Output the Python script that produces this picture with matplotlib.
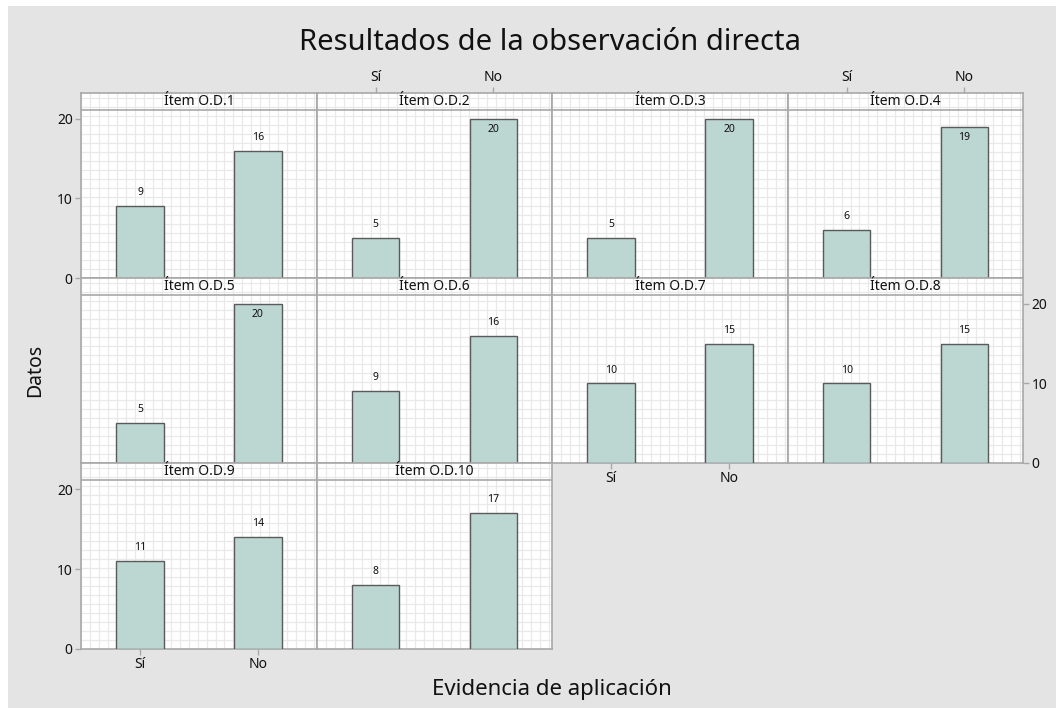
import numpy as np
import matplotlib
matplotlib.use("Agg")
from matplotlib import pyplot as plt
from matplotlib.patches import Rectangle

plt.rcParams['font.family'] = ['Noto Sans', 'DejaVu Sans']

# datos del gráfico
items = ["Ítem O.D.1", "Ítem O.D.2", "Ítem O.D.3", "Ítem O.D.4", "Ítem O.D.5",
         "Ítem O.D.6", "Ítem O.D.7", "Ítem O.D.8", "Ítem O.D.9", "Ítem O.D.10"]
categorias = ["Sí", "No"]
valores_si = [9, 5, 5, 6, 5, 9, 10, 10, 11, 8]
valores_no = [16, 20, 20, 19, 20, 16, 15, 15, 14, 17]
yticks = [0, 10, 20]

# layout en pixeles (estilo Minitab)
W, H = 1056, 708
col_edges = [81, 317, 552, 788, 1023]
row_edges = [93, 278, 463, 649]
y_top = 21.1      # límite superior del área de datos
y_strip = 23.27   # límite superior incluyendo la franja del título
bar_color = "#bcd6d1"
edge_color = "#5a5a5a"
spine_color = "#a8a8a8"
text_color = "#111111"

fig = plt.figure(figsize=(W / 100, H / 100), dpi=100)
fig.patch.set_facecolor("white")
fig.add_artist(Rectangle((8 / W, 0), 1 - 8 / W, 1 - 6 / H, transform=fig.transFigure,
                         facecolor="#e4e4e4", edgecolor="none", zorder=0))

x = np.arange(len(categorias))
for i, item in enumerate(items):
    r, c = divmod(i, 4)
    x0, x1 = col_edges[c], col_edges[c + 1]
    y0, y1 = row_edges[r], row_edges[r + 1]
    ax = fig.add_axes([x0 / W, 1 - y1 / H, (x1 - x0) / W, (y1 - y0) / H])
    ax.set_facecolor("white")
    ax.set_xlim(-0.5, 1.5)
    ax.set_ylim(0, y_strip)

    # cuadrícula fina
    ax.set_xticks(np.arange(-0.5, 1.5, 0.076), minor=True)
    ax.set_yticks(np.arange(0, y_strip, 1.13), minor=True)
    ax.grid(which="minor", color="#e9e9e9", linewidth=0.9)
    ax.tick_params(which="minor", length=0)
    ax.set_axisbelow(True)

    vals = [valores_si[i], valores_no[i]]
    ax.bar(x, vals, width=0.4, color=bar_color, edgecolor=edge_color, linewidth=1.0, zorder=3)
    for xi, v in zip(x, vals):
        if v + 2.3 > y_top:
            ax.text(xi, v - 0.6, str(v), ha="center", va="top", fontsize=7.5, color=text_color, zorder=4)
        else:
            ax.text(xi, v + 1.0, str(v), ha="center", va="bottom", fontsize=7.5, color=text_color, zorder=4)

    # franja del título del panel
    ax.axhline(y_top, color=spine_color, linewidth=1.2, zorder=5)
    ax.text(0.5, (y_top + y_strip) / 2, item, ha="center", va="center",
            fontsize=10, color=text_color, zorder=5)

    for s in ax.spines.values():
        s.set_color(spine_color)
        s.set_linewidth(1.2)

    # ejes estilo Minitab alternados
    ax.set_xticks(x)
    ax.set_xticklabels(categorias)
    ax.set_yticks(yticks)
    ax.tick_params(axis="both", which="major", colors=spine_color, labelcolor=text_color,
                   labelsize=10, length=4, width=1, pad=2)
    show_left = c == 0 and r in (0, 2)
    show_right = c == 3 and r == 1
    ax.tick_params(axis="y", left=show_left, labelleft=show_left,
                   right=show_right, labelright=show_right)
    show_top = r == 0 and c in (1, 3)
    show_bottom = (r == 2 and c == 0) or (r == 1 and c == 2)
    ax.tick_params(axis="x", top=show_top, labeltop=show_top,
                   bottom=show_bottom, labelbottom=show_bottom)

fig.text(550 / W, 1 - 42 / H, "Resultados de la observación directa", ha="center", va="center",
         fontsize=21, fontweight="medium", color=text_color)
fig.text(35 / W, 1 - 370 / H, "Datos", ha="center", va="center", rotation=90,
         fontsize=14, fontweight="semibold", color=text_color)
fig.text(552 / W, 1 - 690 / H, "Evidencia de aplicación", ha="center", va="center",
         fontsize=16, fontweight="medium", color=text_color)

fig.savefig("out.png", dpi=100)
